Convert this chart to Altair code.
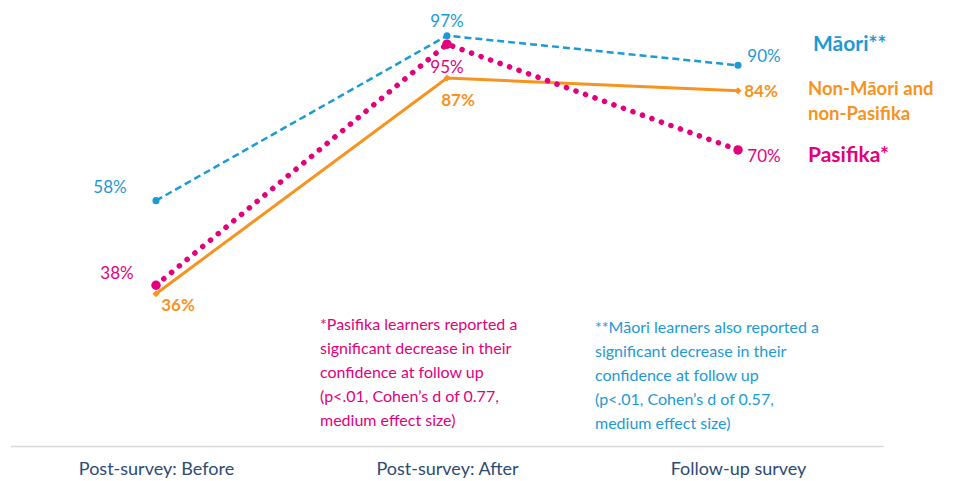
import altair as alt
import pandas as pd

stages = ["Post-survey: Before", "Post-survey: After", "Follow-up survey"]
series = ["Māori", "Non-Māori and non-Pasifika", "Pasifika"]
maori = [58, 97, 90]
non_mp = [36, 87, 84]
pasifika = [38, 95, 70]
values = {"Māori": maori, "Non-Māori and non-Pasifika": non_mp, "Pasifika": pasifika}

legend_names = {"Māori": "Māori**", "Non-Māori and non-Pasifika": "Non-Māori and\nnon-Pasifika",
                "Pasifika": "Pasifika*"}
note_pasifika = ("*Pasifika learners reported a\nsignificant decrease in their\nconfidence at follow up\n"
                 "(p<.01, Cohen’s d of 0.77,\nmedium effect size)")
note_maori = ("**Māori learners also reported a\nsignificant decrease in their\nconfidence at follow up\n"
              "(p<.01, Cohen’s d of 0.57,\nmedium effect size)")

rows = []
for s in series:
    for st, v in zip(stages, values[s]):
        rows.append({"series": s, "stage": st, "value": v, "label": f"{v}%"})
df = pd.DataFrame(rows)

FONT = "Lato"
colors = {"Māori": "#1B9AD6", "Non-Māori and non-Pasifika": "#F7931E", "Pasifika": "#E3007D"}

xenc = alt.X("stage:N", sort=stages, scale=alt.Scale(domain=stages),
             axis=alt.Axis(title=None, labelAngle=0, ticks=False, tickSize=0, domainColor="#D9D9D9",
                           domainWidth=1.5, labelFontSize=18, labelColor="#2D4A73", labelFont=FONT,
                           labelPadding=23, labelBaseline="middle", grid=False))
yenc = alt.Y("value:Q", scale=alt.Scale(domain=[0, 100], nice=False, zero=True), axis=None)

base = alt.Chart(df)
layers = []

line_styles = {
    "Māori": dict(strokeDash=[7, 4], strokeWidth=2.5),
    "Non-Māori and non-Pasifika": dict(strokeWidth=3),
    "Pasifika": dict(strokeDash=[0.1, 10], strokeWidth=5.5, strokeCap="round"),
}
point_styles = {
    "Māori": dict(shape="circle", size=50),
    "Non-Māori and non-Pasifika": dict(shape="diamond", size=50),
    "Pasifika": dict(shape="circle", size=90),
}
for s in series:
    sub = base.transform_filter(alt.datum.series == s)
    layers.append(sub.mark_line(color=colors[s], **line_styles[s]).encode(x=xenc, y=yenc))
    layers.append(sub.mark_point(color=colors[s], filled=True, opacity=1, **point_styles[s])
                  .encode(x=xenc, y=yenc))

# value label offsets (style)
offsets = {
    ("Māori", 0): (-46, -13), ("Māori", 1): (0, -14), ("Māori", 2): (26, -8),
    ("Pasifika", 0): (-39, -11), ("Pasifika", 1): (0, 24), ("Pasifika", 2): (26, 7),
    ("Non-Māori and non-Pasifika", 0): (22, 12), ("Non-Māori and non-Pasifika", 1): (11, 23),
    ("Non-Māori and non-Pasifika", 2): (23, 1),
}
for (s, i), (dx, dy) in offsets.items():
    sub = base.transform_filter((alt.datum.series == s) & (alt.datum.stage == stages[i]))
    bold = s == "Non-Māori and non-Pasifika"
    layers.append(sub.mark_text(color=colors[s], font=FONT, fontSize=17, dx=dx, dy=dy,
                                fontWeight="bold" if bold else "normal")
                  .encode(x=xenc, y=yenc, text="label:N"))

# series name labels on the right
leg_df = pd.DataFrame({
    "series": series,
    "name": [legend_names[s] for s in series],
    "stage": [stages[2]] * 3,
    "value": [values[s][2] for s in series],
})
leg_style = {"Māori": (75, -20, 21), "Non-Māori and non-Pasifika": (70, -2, 18.5),
             "Pasifika": (70, 6, 21)}
for s in series:
    dx, dy, fs = leg_style[s]
    layers.append(alt.Chart(leg_df).transform_filter(alt.datum.series == s)
                  .mark_text(color=colors[s], font=FONT, fontSize=fs, fontWeight="bold",
                             align="left", baseline="middle", dx=dx, dy=dy, lineBreak="\n",
                             lineHeight=25)
                  .encode(x=xenc, y=yenc, text="name:N"))

notes_df = pd.DataFrame({
    "note": [note_pasifika, note_maori],
    "stage": [stages[1], stages[2]],
    "value": [28.6, 27.9],
    "series": ["Pasifika", "Māori"],
})
for s, dx in [("Pasifika", -127), ("Māori", -143)]:
    layers.append(alt.Chart(notes_df).transform_filter(alt.datum.series == s)
                  .mark_text(color=colors[s], font=FONT, fontSize=16, align="left",
                             baseline="middle", dx=dx, lineBreak="\n", lineHeight=24)
                  .encode(x=xenc, y=yenc, text="note:N"))

chart = alt.layer(*layers).properties(
    width=873, height=423,
    padding={"left": 2.5, "top": 15, "right": 65, "bottom": 35},
    autosize=alt.AutoSizeParams(type="none"),
).configure_view(stroke=None)

chart.save("out.html", embed_options={"renderer": "svg", "actions": False})
